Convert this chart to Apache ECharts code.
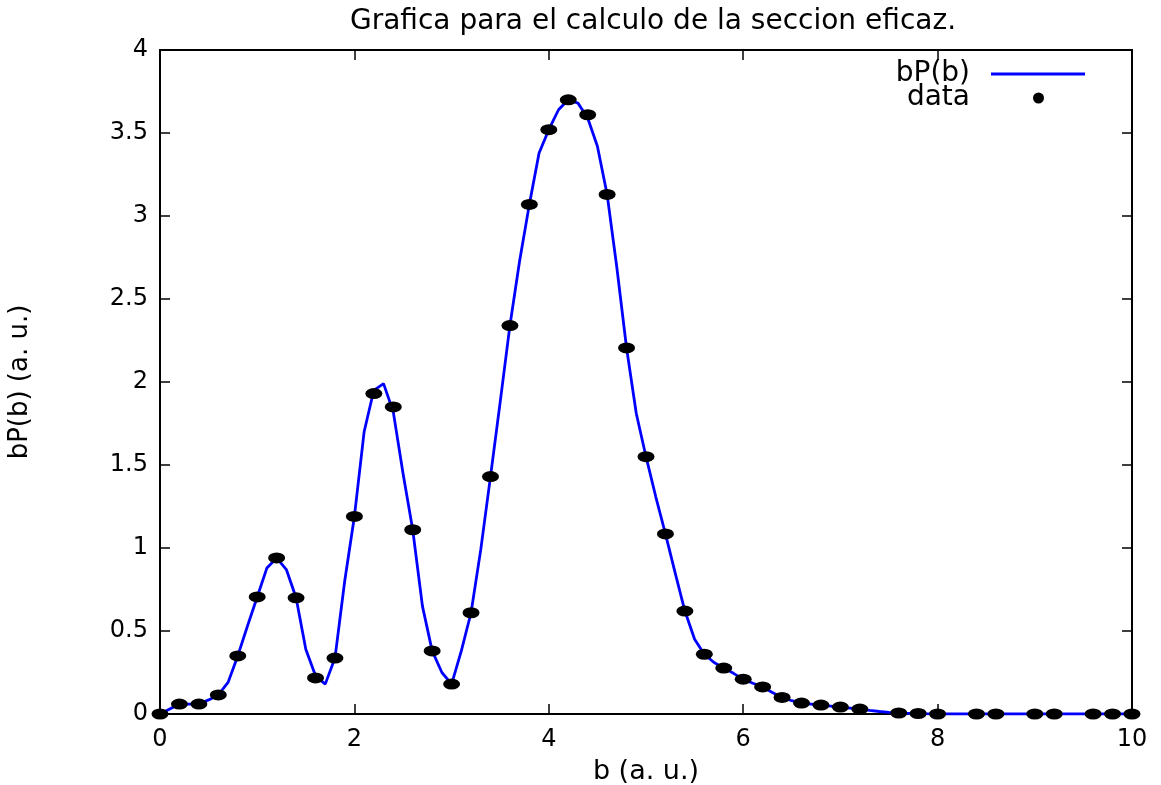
<!DOCTYPE html>
<html>
<head>
<meta charset="utf-8">
<script src="https://cdn.jsdelivr.net/npm/echarts@6/dist/echarts.min.js"></script>
<style>html,body{margin:0;padding:0;background:#fff;}#c{width:1161px;height:785px;}</style>
</head>
<body>
<div id="c"></div>
<script>
// Fitted curve bP(b), sampled every 0.1
const lineB = [0.0,0.1,0.2,0.3,0.4,0.5,0.6,0.7,0.8,0.9,1.0,1.1,1.2,1.3,1.4,1.5,1.6,1.7,1.8,1.9,2.0,2.1,2.2,2.3,2.4,2.5,2.6,2.7,2.8,2.9,3.0,3.1,3.2,3.3,3.4,3.5,3.6,3.7,3.8,3.9,4.0,4.1,4.2,4.3,4.4,4.5,4.6,4.7,4.8,4.9,5.0,5.1,5.2,5.3,5.4,5.5,5.6,5.7,5.8,5.9,6.0,6.1,6.2,6.3,6.4,6.5,6.6,6.7,6.8,6.9,7.0,7.1,7.2,7.3,7.4,7.5,7.6,7.7,7.8,7.9,8.0,8.1,8.2,8.3,8.4,8.5,8.6,8.7,8.8,8.9,9.0,9.1,9.2,9.3,9.4,9.5,9.6,9.7,9.8,9.9,10.0];
const lineP = [0,0.03,0.06,0.06,0.06,0.085,0.115,0.19,0.35,0.53,0.705,0.88,0.94,0.87,0.70,0.39,0.23,0.18,0.337,0.80,1.19,1.70,1.95,1.99,1.82,1.45,1.11,0.65,0.38,0.25,0.18,0.38,0.61,0.99,1.43,1.88,2.34,2.73,3.07,3.38,3.52,3.64,3.70,3.68,3.59,3.42,3.13,2.69,2.205,1.81,1.55,1.31,1.085,0.85,0.62,0.45,0.36,0.31,0.277,0.245,0.21,0.185,0.163,0.13,0.10,0.08,0.066,0.06,0.054,0.048,0.042,0.036,0.03,0.022,0.015,0.01,0.006,0.004,0.003,0.001,0,0,0,0,0,0,0,0,0,0,0,0,0,0,0,0,0,0,0,0,0];
// Data points
const dataB = [0,0.2,0.4,0.6,0.8,1.0,1.2,1.4,1.6,1.8,2.0,2.2,2.4,2.6,2.8,3.0,3.2,3.4,3.6,3.8,4.0,4.2,4.4,4.6,4.8,5.0,5.2,5.4,5.6,5.8,6.0,6.2,6.4,6.6,6.8,7.0,7.2,7.6,7.8,8.0,8.4,8.6,9.0,9.2,9.6,9.8,10.0];
const dataP = [0,0.06,0.06,0.115,0.35,0.705,0.94,0.70,0.217,0.337,1.19,1.93,1.85,1.11,0.38,0.18,0.61,1.43,2.34,3.07,3.52,3.70,3.61,3.13,2.205,1.55,1.085,0.62,0.36,0.277,0.21,0.163,0.10,0.066,0.054,0.042,0.03,0.006,0.003,0,0,0,0,0,0,0,0];
const titleText = 'Grafica para el calculo de la seccion eficaz.';
const xName = 'b (a. u.)';
const yName = 'bP(b) (a. u.)';
const lineName = 'bP(b)';
const dataName = 'data';

const font = 'DejaVu Sans, Liberation Sans, sans-serif';
const chart = echarts.init(document.getElementById('c'), null, {renderer: 'canvas'});
const lineData = lineB.map((b, i) => [b, lineP[i]]);
const pointData = dataB.map((b, i) => [b, dataP[i]]);

function ticks() { return {show: true, inside: true, length: 10, lineStyle: {color: '#000', width: 1.5}}; }
function axLine() { return {show: true, onZero: false, lineStyle: {color: '#000', width: 2}}; }

chart.setOption({
  animation: false,
  backgroundColor: '#fff',
  title: {
    text: titleText, left: 648, textAlign: 'center', top: 3,
    textStyle: {fontFamily: font, fontSize: 28, fontWeight: 'normal', color: '#000'}
  },
  grid: {left: 160, right: 29, top: 50, bottom: 71, show: true, borderColor: '#000', borderWidth: 2,
         backgroundColor: 'transparent', containLabel: false, outerBoundsMode: 'none'},
  legend: [
    {data: [{name: lineName, icon: 'rect'}], orient: 'vertical', align: 'right', right: 71, top: 55, itemWidth: 94, itemHeight: 3,
     textStyle: {fontFamily: font, fontSize: 28, color: '#000', padding: [0, 16, 0, 0]}},
    {data: [{name: dataName, icon: 'circle'}], orient: 'vertical', align: 'right', right: 112, top: 79, itemWidth: 13, itemHeight: 11,
     textStyle: {fontFamily: font, fontSize: 28, color: '#000', padding: [0, 57, 0, 0]}}
  ],
  xAxis: [
    {type: 'value', min: 0, max: 10, interval: 2, position: 'bottom',
     name: xName, nameLocation: 'middle', nameGap: 44,
     nameTextStyle: {fontFamily: font, fontSize: 27, color: '#000'},
     axisLine: axLine(), axisTick: ticks(),
     axisLabel: {fontFamily: font, fontSize: 24, color: '#000', margin: 14},
     splitLine: {show: false}},
    {type: 'value', min: 0, max: 10, interval: 2, position: 'top',
     axisLine: axLine(), axisTick: ticks(), axisLabel: {show: false}, splitLine: {show: false}}
  ],
  yAxis: [
    {type: 'value', min: 0, max: 4, interval: 0.5, position: 'left',
     name: yName, nameLocation: 'middle', nameGap: 127, nameRotate: 90,
     nameTextStyle: {fontFamily: font, fontSize: 26, color: '#000'},
     axisLine: axLine(), axisTick: ticks(),
     axisLabel: {fontFamily: font, fontSize: 24, color: '#000', margin: 12},
     splitLine: {show: false}},
    {type: 'value', min: 0, max: 4, interval: 0.5, position: 'right',
     axisLine: axLine(), axisTick: ticks(), axisLabel: {show: false}, splitLine: {show: false}}
  ],
  series: [
    {name: lineName, type: 'line', data: lineData, showSymbol: false, symbol: 'none',
     lineStyle: {color: '#0000ff', width: 2.8}, itemStyle: {color: '#0000ff'}, z: 2},
    {name: dataName, type: 'scatter', data: pointData, symbol: 'circle', symbolSize: [17, 11],
     itemStyle: {color: '#000', opacity: 1}, clip: false, z: 3}
  ]
});
</script>
</body>
</html>
